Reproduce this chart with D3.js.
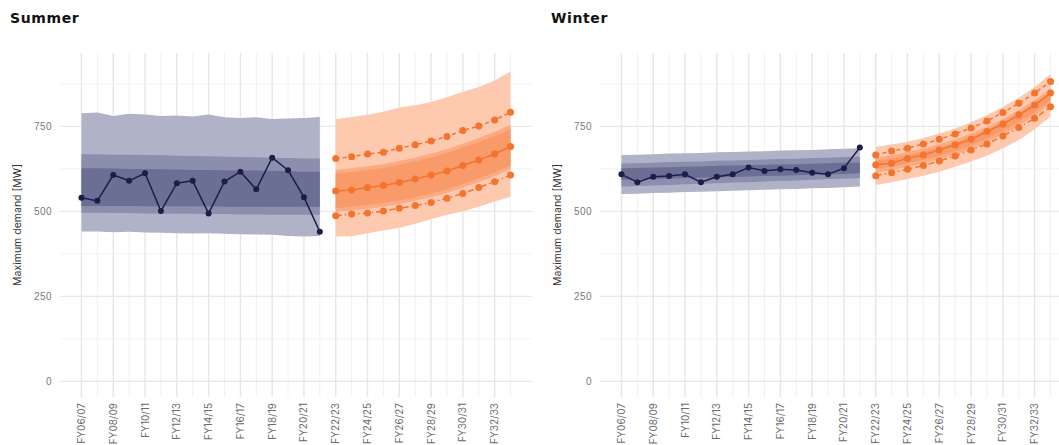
<!DOCTYPE html>
<html>
<head>
<meta charset="utf-8">
<script src="https://cdn.jsdelivr.net/npm/d3@7"></script>
<style>
  body { margin: 0; background: #fff; }
  svg { display: block; font-family: Inter, 'Noto Sans', sans-serif; }
</style>
</head>
<body>
<div id="chart"></div>
<script>
// financial years, one per index
const years = ['FY06/07', 'FY07/08', 'FY08/09', 'FY09/10', 'FY10/11', 'FY11/12', 'FY12/13', 'FY13/14',
  'FY14/15', 'FY15/16', 'FY16/17', 'FY17/18', 'FY18/19', 'FY19/20', 'FY20/21', 'FY21/22',
  'FY22/23', 'FY23/24', 'FY24/25', 'FY25/26', 'FY26/27', 'FY27/28', 'FY28/29', 'FY29/30',
  'FY30/31', 'FY31/32', 'FY32/33', 'FY33/34']
const histYears = years.slice(0, 16)
const fcstYears = years.slice(16)
const xTickLabels = ['FY06/07', 'FY08/09', 'FY10/11', 'FY12/13', 'FY14/15', 'FY16/17', 'FY18/19',
  'FY20/21', 'FY22/23', 'FY24/25', 'FY26/27', 'FY28/29', 'FY30/31', 'FY32/33']
const yTicks = [0, 250, 500, 750]
const yMinor = [125, 375, 625, 875]

// summer - actuals and historical bands
const summerActual = [540, 531, 607, 590, 612, 501, 583, 590, 494, 588, 617, 565, 658, 621, 542, 440]
const summerHistOuterHi = [789, 791, 781, 787, 785, 781, 782, 779, 785, 777, 775, 777, 772, 773, 775, 778]
const summerHistOuterLo = [441, 441, 439, 440, 438, 437, 436, 435, 436, 434, 433, 432, 431, 428, 426, 428]
const summerHistMidHi = [668, 668, 667, 667, 666, 665, 664, 663, 662, 661, 660, 659, 658, 657, 656, 656]
const summerHistMidLo = [496, 496, 495, 495, 494, 494, 493, 493, 492, 492, 491, 491, 490, 490, 490, 490]
const summerHistInHi = [627, 627, 626, 625, 625, 624, 623, 622, 622, 621, 620, 620, 619, 618, 617, 617]
const summerHistInLo = [516, 516, 516, 516, 515, 515, 515, 515, 515, 514, 514, 514, 514, 514, 514, 514]

// summer - forecast
const summerP10 = [656, 661, 669, 674, 686, 696, 707, 720, 738, 751, 769, 792]
const summerP50 = [560, 563, 570, 576, 585, 595, 607, 619, 635, 651, 669, 691]
const summerP90 = [487, 492, 495, 501, 509, 517, 526, 539, 553, 570, 587, 607]
const summerFcOuterHi = [771, 778, 784, 793, 806, 812, 822, 836, 852, 866, 885, 912]
const summerFcOuterLo = [426, 427, 436, 444, 451, 464, 477, 490, 500, 514, 529, 543]
const summerFcMidHi = [622, 627, 633, 639, 648, 658, 670, 683, 700, 716, 734, 754]
const summerFcMidLo = [499, 503, 508, 514, 522, 531, 542, 554, 570, 586, 604, 625]
const summerFcInHi = [612, 616, 622, 628, 637, 647, 659, 671, 688, 704, 722, 742]
const summerFcInLo = [510, 514, 519, 525, 533, 542, 553, 565, 581, 597, 615, 636]

// winter - actuals and historical bands
const winterActual = [609, 586, 602, 604, 609, 586, 602, 609, 629, 619, 624, 622, 614, 609, 627, 688]
const winterHistOuterHi = [666, 667, 668, 670, 671, 672, 674, 675, 676, 677, 679, 680, 681, 683, 684, 686]
const winterHistOuterLo = [551, 552, 554, 555, 557, 558, 559, 561, 562, 564, 565, 566, 568, 569, 571, 573]
const winterHistMidHi = [641, 642, 643, 645, 646, 647, 649, 650, 651, 653, 654, 655, 657, 658, 660, 661]
const winterHistMidLo = [573, 575, 576, 578, 580, 581, 583, 585, 586, 588, 590, 591, 593, 595, 596, 598]
const winterHistInHi = [627, 628, 629, 630, 631, 632, 634, 635, 636, 637, 638, 639, 640, 642, 643, 644]
const winterHistInLo = [593, 594, 595, 597, 598, 599, 600, 601, 603, 604, 605, 606, 608, 609, 610, 612]

// winter - forecast
const winterP10 = [666, 678, 686, 698, 712, 728, 745, 766, 791, 818, 848, 882]
const winterP50 = [637, 642, 656, 666, 681, 696, 712, 735, 757, 784, 813, 848]
const winterP90 = [605, 614, 624, 635, 648, 663, 681, 698, 722, 747, 774, 808]
const winterFcOuterHi = [690, 697, 705, 716, 729, 744, 762, 783, 808, 834, 866, 904]
const winterFcOuterLo = [578, 586, 595, 605, 617, 631, 647, 664, 686, 710, 742, 779]
const winterFcMidHi = [658, 665, 675, 685, 698, 712, 729, 749, 772, 798, 827, 862]
const winterFcMidLo = [614, 621, 631, 641, 653, 667, 684, 703, 726, 752, 781, 816]
const winterFcInHi = [649, 656, 666, 676, 689, 703, 720, 740, 763, 789, 818, 853]
const winterFcInLo = [625, 632, 642, 652, 664, 678, 695, 714, 737, 763, 792, 827]

const width = 1059, height = 445
const navy = '#1b1d4c', orange = '#f4742f'
const navyBands = ['#b0b2c7', '#8b8eac', '#6c6f94']
const orangeBands = ['#fdcab0', '#fbab83', '#f99a6a']

const svg = d3.select('#chart').append('svg')
  .attr('width', width)
  .attr('height', height)

const y = d3.scaleLinear().domain([-46, 966]).range([397, 53])

function toRows(cats, hi, lo) {
  return cats.map((c, i) => ({ c: c, hi: hi[i], lo: lo[i] }))
}

function drawPanel(p) {
  const x = d3.scaleLinear().domain([-1.35, 28.35]).range([p.left, p.left + 472])
  const xi = c => x(years.indexOf(c))
  const g = svg.append('g')

  // grid
  const xr = x.range()
  g.selectAll('.vminor').data(years.filter((d, i) => i % 2 === 1)).enter()
    .append('line')
    .attr('x1', xi).attr('x2', xi).attr('y1', 53).attr('y2', 397)
    .attr('stroke', '#ececec').attr('stroke-width', 0.8)
  g.selectAll('.vmajor').data(xTickLabels).enter()
    .append('line')
    .attr('x1', xi).attr('x2', xi).attr('y1', 53).attr('y2', 397)
    .attr('stroke', '#e6e6e6').attr('stroke-width', 1.4)
  g.selectAll('.hminor').data(yMinor).enter()
    .append('line')
    .attr('x1', xr[0]).attr('x2', xr[1]).attr('y1', y).attr('y2', y)
    .attr('stroke', '#f0f0f0').attr('stroke-width', 0.8)
  g.selectAll('.hmajor').data(yTicks).enter()
    .append('line')
    .attr('x1', xr[0]).attr('x2', xr[1]).attr('y1', y).attr('y2', y)
    .attr('stroke', '#e8e8e8').attr('stroke-width', 1.2)

  const area = d3.area()
    .x(d => xi(d.c))
    .y0(d => y(d.lo))
    .y1(d => y(d.hi))

  p.hist.forEach((b, i) => {
    g.append('path').datum(toRows(histYears, b[0], b[1]))
      .attr('d', area).attr('fill', navyBands[i])
  })
  p.fcst.forEach((b, i) => {
    g.append('path').datum(toRows(fcstYears, b[0], b[1]))
      .attr('d', area).attr('fill', orangeBands[i])
  })

  const line = d3.line().x(d => xi(d.c)).y(d => y(d.v))

  function series(cats, vals, color, dash, r) {
    const rows = cats.map((c, i) => ({ c: c, v: vals[i] }))
    g.append('path').datum(rows)
      .attr('d', line)
      .attr('fill', 'none')
      .attr('stroke', color)
      .attr('stroke-width', 1.5)
      .attr('stroke-dasharray', dash)
    g.append('g').selectAll('circle').data(rows).enter()
      .append('circle')
      .attr('cx', d => xi(d.c))
      .attr('cy', d => y(d.v))
      .attr('r', r)
      .attr('fill', color)
  }

  series(histYears, p.actual, navy, null, 3)
  series(fcstYears, p.p10, orange, '4,3', 3.5)
  series(fcstYears, p.p50, orange, null, 3.5)
  series(fcstYears, p.p90, orange, '6,3,1.5,3', 3.5)

  // y axis
  const yAxis = d3.axisLeft(y).tickValues(yTicks).tickSize(0).tickPadding(8)
  g.append('g')
    .attr('transform', 'translate(' + xr[0] + ',0)')
    .call(yAxis)
    .call(a => a.select('.domain').remove())
    .selectAll('text')
    .attr('fill', '#7a7a7a')
    .style('font-size', '10px')
    .style('letter-spacing', '0.4px')

  // x axis
  g.append('g')
    .selectAll('text')
    .data(xTickLabels)
    .enter()
    .append('text')
    .attr('transform', d => 'translate(' + (xi(d) + 3.5) + ',403)rotate(-90)')
    .attr('text-anchor', 'end')
    .attr('fill', '#6a6a6a')
    .style('font-size', '10px')
    .text(d => d)

  g.append('text')
    .attr('transform', 'translate(' + p.ylabX + ',225)rotate(-90)')
    .attr('text-anchor', 'middle')
    .attr('fill', '#333')
    .style('font-size', '10.5px')
    .text('Maximum demand [MW]')

  g.append('text')
    .attr('x', p.titleX)
    .attr('y', 23)
    .attr('fill', '#111')
    .style('font-family', "'DejaVu Sans', sans-serif")
    .style('font-size', '14px')
    .style('font-weight', 'bold')
    .style('letter-spacing', '0.6px')
    .text(p.title)
}

drawPanel({
  title: 'Summer', titleX: 10, ylabX: 21, left: 60,
  actual: summerActual,
  hist: [[summerHistOuterHi, summerHistOuterLo], [summerHistMidHi, summerHistMidLo], [summerHistInHi, summerHistInLo]],
  fcst: [[summerFcOuterHi, summerFcOuterLo], [summerFcMidHi, summerFcMidLo], [summerFcInHi, summerFcInLo]],
  p10: summerP10, p50: summerP50, p90: summerP90
})

drawPanel({
  title: 'Winter', titleX: 551, ylabX: 561, left: 600,
  actual: winterActual,
  hist: [[winterHistOuterHi, winterHistOuterLo], [winterHistMidHi, winterHistMidLo], [winterHistInHi, winterHistInLo]],
  fcst: [[winterFcOuterHi, winterFcOuterLo], [winterFcMidHi, winterFcMidLo], [winterFcInHi, winterFcInLo]],
  p10: winterP10, p50: winterP50, p90: winterP90
})
</script>
</body>
</html>
